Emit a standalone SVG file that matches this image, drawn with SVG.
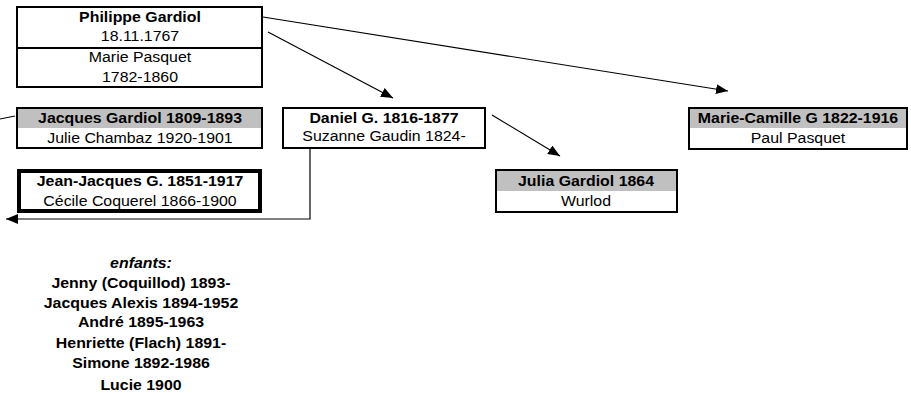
<svg xmlns="http://www.w3.org/2000/svg" width="911" height="393" viewBox="0 0 911 393">
  <style>
    text { font-family: "Liberation Sans", Arial, sans-serif; font-size: 15px; fill: #000; text-anchor: middle; }
    .b { font-weight: bold; }
    .i { font-style: italic; font-weight: bold; }
    .box { fill: #fff; stroke: #000; stroke-width: 2; }
    .thick { fill: #fff; stroke: #000; stroke-width: 4; }
    .hdr { fill: #c0c0c0; stroke: none; }
    .sep { stroke: #000; stroke-width: 2; }
    .link { fill: none; stroke: #000; stroke-width: 1.2; }
  </style>
  <defs>
    <marker id="arrow" viewBox="0 0 12 10" refX="12" refY="5" markerWidth="12" markerHeight="10" markerUnits="userSpaceOnUse" orient="auto">
      <path d="M0,0 L12,5 L0,10 Z" fill="#000"/>
    </marker>
  </defs>

  <!-- connectors -->
  <g id="connectors">
    <line class="link" x1="263" y1="17" x2="728" y2="91" marker-end="url(#arrow)"/>
    <line class="link" x1="268" y1="32" x2="393" y2="98" marker-end="url(#arrow)"/>
    <line class="link" x1="492" y1="115" x2="560" y2="156" marker-end="url(#arrow)"/>
    <polyline class="link" points="310,149 310,219 6,219" marker-end="url(#arrow)"/>
    <line class="link" x1="0" y1="119" x2="15" y2="116"/>
  </g>

  <!-- Philippe Gardiol & Marie Pasquet -->
  <g id="philippe">
    <rect class="box" x="17" y="7" width="245" height="80"/>
    <line class="sep" x1="17" y1="48" x2="262" y2="48"/>
    <text class="b" transform="translate(140 22) scale(1.06 1)">Philippe Gardiol</text>
    <text transform="translate(140 41) scale(1.06 1)">18.11.1767</text>
    <text transform="translate(140 62) scale(1.06 1)">Marie Pasquet</text>
    <text transform="translate(140 82) scale(1.06 1)">1782-1860</text>
  </g>

  <!-- Jacques Gardiol -->
  <g id="jacques">
    <rect class="box" x="17" y="108" width="245" height="40"/>
    <rect class="hdr" x="18" y="109" width="243" height="19"/>
    <text class="b" transform="translate(140 123) scale(1.06 1)">Jacques Gardiol 1809-1893</text>
    <text transform="translate(140 143) scale(1.06 1)">Julie Chambaz 1920-1901</text>
  </g>

  <!-- Jean-Jacques G. -->
  <g id="jean-jacques">
    <rect class="thick" x="19" y="171" width="241" height="40"/>
    <text class="b" transform="translate(140 186) scale(1.06 1)">Jean-Jacques G. 1851-1917</text>
    <text transform="translate(140 206) scale(1.06 1)">Cécile Coquerel 1866-1900</text>
  </g>

  <!-- Daniel G. -->
  <g id="daniel">
    <rect class="box" x="283" y="108" width="202" height="40"/>
    <text class="b" transform="translate(384 123) scale(1.06 1)">Daniel G. 1816-1877</text>
    <text transform="translate(384 141) scale(1.06 1)">Suzanne Gaudin 1824-</text>
  </g>

  <!-- Marie-Camille G -->
  <g id="marie-camille">
    <rect class="box" x="689" y="108" width="218" height="41"/>
    <rect class="hdr" x="690" y="109" width="216" height="19"/>
    <text class="b" transform="translate(798 123) scale(1.06 1)">Marie-Camille G 1822-1916</text>
    <text transform="translate(798 143) scale(1.06 1)">Paul Pasquet</text>
  </g>

  <!-- Julia Gardiol -->
  <g id="julia">
    <rect class="box" x="496" y="170" width="181" height="42"/>
    <rect class="hdr" x="497" y="171" width="179" height="20"/>
    <text class="b" transform="translate(586 186) scale(1.06 1)">Julia Gardiol 1864</text>
    <text transform="translate(586 206) scale(1.06 1)">Wurlod</text>
  </g>

  <!-- children list -->
  <g id="enfants">
    <text class="i" transform="translate(141 268) scale(1.06 1)">enfants:</text>
    <text class="b" transform="translate(141 288) scale(1.06 1)">Jenny (Coquillod) 1893-</text>
    <text class="b" transform="translate(141 308) scale(1.06 1)">Jacques Alexis 1894-1952</text>
    <text class="b" transform="translate(141 327) scale(1.06 1)">André 1895-1963</text>
    <text class="b" transform="translate(141 348) scale(1.06 1)">Henriette (Flach) 1891-</text>
    <text class="b" transform="translate(141 368) scale(1.06 1)">Simone 1892-1986</text>
    <text class="b" transform="translate(141 390) scale(1.06 1)">Lucie 1900</text>
  </g>
</svg>
